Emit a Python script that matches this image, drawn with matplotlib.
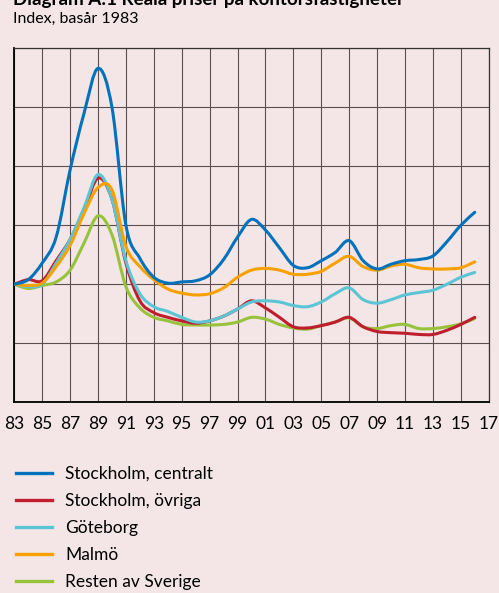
import matplotlib.pyplot as plt
from matplotlib.path import Path
from matplotlib.patches import PathPatch
from matplotlib.lines import Line2D
import numpy as np

# Data (index, 1983 = 100)
years = np.arange(1983, 2017)

sthlm_central = [100, 104, 118, 140, 197, 245, 283, 250, 150, 122, 106, 101, 102, 103, 108, 121, 140,
                 155, 146, 131, 116, 114, 120, 127, 137, 120, 113, 117, 120, 121, 124, 136, 150, 161]
sthlm_other = [100, 104, 103, 120, 138, 163, 190, 172, 118, 86, 76, 72, 69, 67, 69, 73, 79,
               86, 80, 72, 64, 63, 65, 68, 72, 64, 60, 59, 58.5, 57.5, 57.5, 61, 66, 72]
goteborg = [100, 98, 100, 118, 138, 165, 193, 172, 120, 92, 81, 77, 72, 68, 69, 73, 79,
            85, 86, 85, 82, 81, 85, 92, 97, 87, 84, 87, 91, 93, 95, 100, 106, 110]
malmo = [100, 99, 101, 115, 133, 160, 182, 180, 132, 115, 104, 96, 92.5, 91, 92, 97, 106,
         112, 113.5, 112, 108.5, 108.5, 111, 118, 123.7, 115, 112, 115.5, 117, 114, 113, 113, 114, 119]
rest = [100, 96.5, 99, 102, 112, 135, 158, 142, 98, 80, 72, 69, 66, 65.5, 65.5, 66, 68,
        72, 70.5, 66, 63, 62, 65, 68, 71.5, 64, 62.5, 65, 66, 62.5, 62.5, 64, 66.5, 71]

labels = ["Stockholm, centralt", "Stockholm, övriga", "Göteborg", "Malmö", "Resten av Sverige"]
colors = ["#0072BB", "#BE1E2D", "#5BC5D5", "#F7A100", "#96C33B"]
xticks = np.arange(1983, 2018, 2)
xticklabels = [f"{y % 100:02d}" for y in xticks]


# Excel-style smoothed line: Bezier segments through every data point
def smooth_path(x, y):
    pts = np.column_stack([x, y]).astype(float)
    p = np.vstack([pts[0], pts, pts[-1]])
    verts = [pts[0]]
    codes = [Path.MOVETO]
    for i in range(1, len(p) - 2):
        c1 = p[i] + (p[i + 1] - p[i - 1]) / 6
        c2 = p[i + 1] - (p[i + 2] - p[i]) / 6
        verts += [c1, c2, p[i + 1]]
        codes += [Path.CURVE4] * 3
    return Path(verts, codes)


plt.rcParams['font.family'] = ['Lato', 'DejaVu Sans']
bg = "#F4E6E6"

fig = plt.figure(figsize=(4.99, 5.93), dpi=100, facecolor=bg)
ax = fig.add_axes([14.3 / 499, 1 - 402.3 / 593, (488.7 - 14.3) / 499, (402.3 - 48.3) / 593])
ax.set_facecolor(bg)

# draw order: keep blue on top like the reference
series = [sthlm_central, sthlm_other, goteborg, malmo, rest]
zorders = [6, 3, 4, 5, 2]
handles = []
for vals, lab, col, z in zip(series, labels, colors, zorders):
    patch = PathPatch(smooth_path(years, vals), fill=False, edgecolor=col, lw=2.2,
                      zorder=z, joinstyle='round', capstyle='round')
    ax.add_patch(patch)
    handles.append(Line2D([], [], color=col, lw=2.4, label=lab))

ax.set_xlim(1983, 2017)
ax.set_ylim(0, 300)
ax.set_xticks(xticks)
ax.set_xticklabels(xticklabels, fontsize=12.5)
ax.set_yticks(np.arange(0, 301, 50))
ax.set_yticklabels([])
ax.tick_params(length=0, pad=10)
ax.grid(True, color="#5a5050", lw=0.8)
ax.set_axisbelow(True)
for s in ['left', 'bottom']:
    ax.spines[s].set_linewidth(1.3)
    ax.spines[s].set_color('black')
for s in ['right', 'top']:
    ax.spines[s].set_linewidth(0.9)
    ax.spines[s].set_color('#333333')

fig.text(13 / 499, 1 - 5 / 593, "Diagram A:1 Reala priser på kontorsfastigheter",
         fontsize=13.5, fontweight='bold', va='baseline', ha='left')
fig.text(13 / 499, 1 - 23 / 593, "Index, basår 1983", fontsize=11.5, va='baseline', ha='left')

leg = fig.legend(handles=handles, loc='upper left', bbox_to_anchor=(0.018, 1 - 459 / 593),
                 frameon=False, fontsize=12.5, handlelength=2.1, handletextpad=0.75,
                 labelspacing=0.64, borderaxespad=0)

fig.savefig("out.png", dpi=100, facecolor=bg)
